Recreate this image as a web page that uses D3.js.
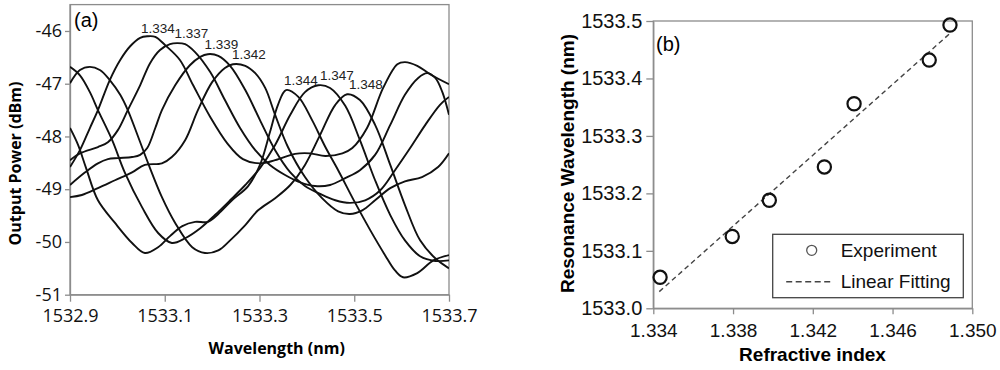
<!DOCTYPE html>
<html>
<head>
<meta charset="utf-8">
<script src="https://cdn.jsdelivr.net/npm/d3@7"></script>
<style>
  body { margin: 0; background: #fff; }
  svg { display: block; }
  .axis path, .axis line { stroke: #8c8c8c; stroke-width: 1.3; }
  .ta text { font-family: "Open Sans", sans-serif; font-size: 18px; fill: #111; }
  .tb text { font-family: "Liberation Sans", Arial, sans-serif; font-size: 19px; fill: #111; }
  .tby text { font-size: 20px; }
</style>
</head>
<body>
<script>
// spectra (wavelength nm, output power dBm), one per refractive index
const s1334 = [[1532.900,-48.58],[1532.921,-48.26],[1532.942,-47.84],[1532.959,-47.50],[1532.984,-46.93],[1533.006,-46.55],[1533.027,-46.29],[1533.048,-46.13],[1533.063,-46.10],[1533.080,-46.11],[1533.101,-46.27],[1533.132,-46.55],[1533.160,-47.03],[1533.196,-47.63],[1533.232,-48.13],[1533.265,-48.43],[1533.301,-48.51],[1533.333,-48.45],[1533.375,-48.33],[1533.407,-48.32],[1533.439,-48.37],[1533.475,-48.32],[1533.496,-48.22],[1533.527,-47.84],[1533.561,-47.08],[1533.591,-46.63],[1533.607,-46.59],[1533.633,-46.66],[1533.660,-46.82],[1533.700,-47.01]];
const s1337 = [[1532.900,-48.45],[1532.921,-48.32],[1532.959,-48.20],[1532.980,-48.11],[1533.001,-47.88],[1533.022,-47.50],[1533.048,-47.03],[1533.069,-46.61],[1533.090,-46.36],[1533.111,-46.25],[1533.126,-46.23],[1533.143,-46.25],[1533.164,-46.40],[1533.196,-46.78],[1533.227,-47.31],[1533.259,-47.84],[1533.291,-48.26],[1533.322,-48.54],[1533.354,-48.73],[1533.386,-48.87],[1533.417,-48.94],[1533.449,-48.92],[1533.481,-48.79],[1533.512,-48.64],[1533.544,-48.35],[1533.576,-47.78],[1533.607,-47.21],[1533.635,-46.89],[1533.654,-46.80],[1533.671,-46.89],[1533.686,-47.16],[1533.700,-47.59]];
const s1339 = [[1532.900,-48.92],[1532.932,-48.68],[1532.959,-48.51],[1532.980,-48.43],[1533.001,-48.41],[1533.031,-48.39],[1533.048,-48.35],[1533.063,-48.22],[1533.080,-47.84],[1533.094,-47.50],[1533.122,-47.03],[1533.153,-46.65],[1533.175,-46.49],[1533.191,-46.44],[1533.213,-46.47],[1533.238,-46.66],[1533.270,-47.12],[1533.301,-47.69],[1533.333,-48.26],[1533.365,-48.68],[1533.396,-48.94],[1533.428,-49.09],[1533.460,-49.21],[1533.491,-49.26],[1533.523,-49.21],[1533.555,-49.02],[1533.586,-48.64],[1533.618,-48.22],[1533.650,-47.78],[1533.681,-47.40],[1533.700,-47.25]];
const s1342 = [[1532.900,-49.15],[1532.925,-49.11],[1532.959,-48.98],[1532.995,-48.83],[1533.031,-48.68],[1533.058,-48.54],[1533.094,-48.51],[1533.115,-48.39],[1533.143,-48.07],[1533.170,-47.50],[1533.200,-46.97],[1533.227,-46.70],[1533.244,-46.63],[1533.270,-46.66],[1533.291,-46.80],[1533.312,-47.08],[1533.333,-47.59],[1533.360,-48.20],[1533.396,-48.77],[1533.432,-49.17],[1533.466,-49.42],[1533.491,-49.47],[1533.517,-49.40],[1533.544,-49.21],[1533.576,-48.98],[1533.607,-48.85],[1533.643,-48.77],[1533.677,-48.58],[1533.700,-48.32]];
const s1344 = [[1532.900,-47.84],[1532.917,-48.16],[1532.934,-48.60],[1532.959,-49.21],[1532.995,-49.64],[1533.031,-50.02],[1533.058,-50.21],[1533.086,-50.10],[1533.111,-49.89],[1533.137,-49.70],[1533.164,-49.62],[1533.191,-49.62],[1533.213,-49.47],[1533.242,-49.21],[1533.276,-48.94],[1533.301,-48.54],[1533.322,-47.92],[1533.339,-47.40],[1533.356,-47.12],[1533.382,-47.25],[1533.411,-47.69],[1533.439,-48.20],[1533.466,-48.64],[1533.502,-49.26],[1533.534,-49.78],[1533.565,-50.25],[1533.586,-50.54],[1533.603,-50.67],[1533.633,-50.59],[1533.667,-50.35],[1533.700,-50.25]];
const s1347 = [[1532.900,-46.68],[1532.921,-46.84],[1532.942,-47.16],[1532.959,-47.50],[1532.989,-48.07],[1533.016,-48.69],[1533.052,-49.34],[1533.086,-49.83],[1533.115,-50.02],[1533.143,-49.93],[1533.175,-49.74],[1533.206,-49.49],[1533.238,-49.21],[1533.270,-48.92],[1533.301,-48.60],[1533.333,-48.16],[1533.365,-47.59],[1533.396,-47.16],[1533.424,-47.03],[1533.449,-47.08],[1533.481,-47.42],[1533.512,-48.07],[1533.544,-48.83],[1533.576,-49.49],[1533.607,-49.97],[1533.639,-50.27],[1533.671,-50.36],[1533.700,-50.35]];
const s1348 = [[1532.900,-46.99],[1532.921,-46.74],[1532.942,-46.68],[1532.963,-46.74],[1532.984,-46.93],[1533.006,-47.21],[1533.022,-47.50],[1533.044,-48.01],[1533.065,-48.51],[1533.094,-49.15],[1533.122,-49.64],[1533.158,-50.10],[1533.185,-50.21],[1533.213,-50.16],[1533.238,-49.97],[1533.270,-49.68],[1533.297,-49.40],[1533.333,-49.17],[1533.365,-48.92],[1533.396,-48.54],[1533.428,-47.97],[1533.460,-47.40],[1533.485,-47.20],[1533.512,-47.31],[1533.544,-47.78],[1533.576,-48.54],[1533.607,-49.30],[1533.639,-49.97],[1533.671,-50.31],[1533.700,-50.50]];
const spectra = [s1334, s1337, s1339, s1342, s1344, s1347, s1348];
const riLabels = ["1.334", "1.337", "1.339", "1.342", "1.344", "1.347", "1.348"];

// panel (b): resonance wavelength vs refractive index
const riValues = [1.33434, 1.33796, 1.33982, 1.34258, 1.34407, 1.34784, 1.34888];
const resWl = [1533.054, 1533.125, 1533.188, 1533.246, 1533.356, 1533.432, 1533.493];
const fitRi = [1.3343, 1.3489];
const fitWl = [1533.029, 1533.479];

const xTicksA = [1532.9, 1533.1, 1533.3, 1533.5, 1533.7];
const yTicksA = [-51, -50, -49, -48, -47, -46];
const xTicksB = [1.334, 1.338, 1.342, 1.346, 1.350];
const yTicksB = [1533.0, 1533.1, 1533.2, 1533.3, 1533.4, 1533.5];

const svg = d3.select("body").append("svg")
    .attr("width", 1000)
    .attr("height", 370);
svg.append("rect").attr("width", 1000).attr("height", 370).attr("fill", "#fff");

// ---------- panel (a) ----------
const xa = d3.scaleLinear().domain([1532.9, 1533.7]).range([70, 449]);
const ya = d3.scaleLinear().domain([-51, -45.5]).range([294.7, 4.6]);

svg.append("rect")
    .attr("x", 70).attr("y", 4.6)
    .attr("width", 379).attr("height", 290.1)
    .attr("fill", "none").attr("stroke", "#8c8c8c").attr("stroke-width", 1.3);

svg.append("g").attr("class", "axis ta")
    .attr("transform", "translate(0,294.7)")
    .call(d3.axisBottom(xa).tickValues(xTicksA).tickFormat(d3.format(".1f"))
        .tickSize(7).tickSizeOuter(0).tickPadding(8));

svg.append("g").attr("class", "axis ta")
    .attr("transform", "translate(70,0)")
    .call(d3.axisLeft(ya).tickValues(yTicksA).tickFormat(d => String(d))
        .tickSize(5).tickSizeOuter(0).tickPadding(3));

const line = d3.line()
    .x(d => xa(d[0]))
    .y(d => ya(d[1]))
    .curve(d3.curveCatmullRom.alpha(0.5));

svg.append("clipPath").attr("id", "clipA")
    .append("rect").attr("x", 70).attr("y", 4.6).attr("width", 379).attr("height", 290.1);

svg.append("g").attr("clip-path", "url(#clipA)")
    .selectAll("path.spec")
    .data(spectra)
    .enter().append("path")
    .attr("class", "spec")
    .attr("d", line)
    .attr("fill", "none")
    .attr("stroke", "#111")
    .attr("stroke-width", 1.9);

// labels above each resonance peak
svg.selectAll("text.ri")
    .data(riLabels)
    .enter().append("text")
    .attr("class", "ri")
    .attr("x", (d, i) => xa(resWl[i]) - 2)
    .attr("y", (d, i) => {
        const s = spectra[i];
        const p = s.reduce((a, b) => Math.abs(b[0] - resWl[i]) < Math.abs(a[0] - resWl[i]) ? b : a);
        return ya(p[1]) - 5;
    })
    .style("font-family", "'Liberation Sans', Arial, sans-serif")
    .style("font-size", "13.5px")
    .style("fill", "#222")
    .text(d => d);

svg.append("text")
    .attr("x", 74).attr("y", 27)
    .style("font-family", "'Liberation Sans', Arial, sans-serif")
    .style("font-size", "20px")
    .text("(a)");

svg.append("text")
    .attr("x", 276.7).attr("y", 354)
    .attr("text-anchor", "middle")
    .style("font-family", "'Open Sans', sans-serif")
    .style("font-size", "16px").style("font-weight", "bold")
    .text("Wavelength (nm)");

svg.append("text")
    .attr("transform", "translate(21,163.5) rotate(-90)")
    .attr("text-anchor", "middle")
    .style("font-family", "'Open Sans', sans-serif")
    .style("font-size", "16px").style("font-weight", "bold")
    .text("Output Power (dBm)");

// ---------- panel (b) ----------
const xb = d3.scaleLinear().domain([1.334, 1.350]).range([653.3, 972.3]);
const yb = d3.scaleLinear().domain([1533.0, 1533.5]).range([308.3, 21]);

svg.append("rect")
    .attr("x", 653.3).attr("y", 21)
    .attr("width", 319).attr("height", 287.3)
    .attr("fill", "none").attr("stroke", "#8c8c8c").attr("stroke-width", 1.3);

svg.append("g").attr("class", "axis tb")
    .attr("transform", "translate(0,308.3)")
    .call(d3.axisBottom(xb).tickValues(xTicksB).tickFormat(d3.format(".3f"))
        .tickSize(6).tickSizeOuter(0).tickPadding(9));

svg.append("g").attr("class", "axis tb tby")
    .attr("transform", "translate(653.3,0)")
    .call(d3.axisLeft(yb).tickValues(yTicksB).tickFormat(d3.format(".1f"))
        .tickSize(7).tickSizeOuter(0).tickPadding(4));

const fitLine = d3.line().x(d => xb(d[0])).y(d => yb(d[1]));
svg.append("path")
    .datum(fitRi.map((r, i) => [r, fitWl[i]]))
    .attr("d", fitLine)
    .attr("fill", "none")
    .attr("stroke", "#444")
    .attr("stroke-width", 1.4)
    .attr("stroke-dasharray", "5,3.5");

svg.selectAll("circle.exp")
    .data(riValues)
    .enter().append("circle")
    .attr("class", "exp")
    .attr("cx", d => xb(d))
    .attr("cy", (d, i) => yb(resWl[i]))
    .attr("r", 6.6)
    .attr("fill", "none")
    .attr("stroke", "#111")
    .attr("stroke-width", 2.2);

svg.append("text")
    .attr("x", 656).attr("y", 51)
    .style("font-family", "'Liberation Sans', Arial, sans-serif")
    .style("font-size", "20px")
    .text("(b)");

svg.append("text")
    .attr("x", 812.5).attr("y", 361)
    .attr("text-anchor", "middle")
    .style("font-family", "'Liberation Sans', Arial, sans-serif")
    .style("font-size", "19px").style("font-weight", "bold")
    .text("Refractive index");

svg.append("text")
    .attr("transform", "translate(574,163.5) rotate(-90)")
    .attr("text-anchor", "middle")
    .style("font-family", "'Liberation Sans', Arial, sans-serif")
    .style("font-size", "19px").style("font-weight", "bold")
    .text("Resonance Wavelength (nm)");

// legend
const leg = svg.append("g").attr("transform", "translate(772.7,234.3)");
leg.append("rect")
    .attr("width", 190.6).attr("height", 63.4)
    .attr("fill", "#fff").attr("stroke", "#444").attr("stroke-width", 1.3);
leg.append("circle")
    .attr("cx", 39).attr("cy", 16).attr("r", 5)
    .attr("fill", "none").attr("stroke", "#555").attr("stroke-width", 1.3);
leg.append("line")
    .attr("x1", 13.5).attr("x2", 61).attr("y1", 47.4).attr("y2", 47.4)
    .attr("stroke", "#444").attr("stroke-width", 1.4)
    .attr("stroke-dasharray", "6,3.5");
leg.selectAll("text")
    .data(["Experiment", "Linear Fitting"])
    .enter().append("text")
    .attr("x", 68).attr("y", (d, i) => 22.5 + i * 31.4)
    .style("font-family", "'Liberation Sans', Arial, sans-serif")
    .style("font-size", "19px")
    .style("fill", "#111")
    .text(d => d);
</script>
</body>
</html>
